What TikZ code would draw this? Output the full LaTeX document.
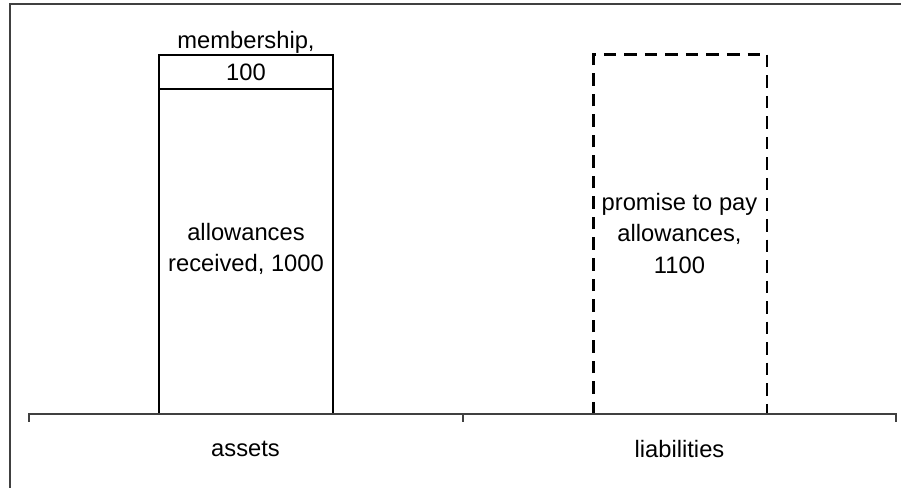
\documentclass[tikz,border=0pt]{standalone}
\usepackage{fontspec}
\setmainfont{Liberation Sans}
\begin{document}
\begin{tikzpicture}[x=0.75pt,y=-0.75pt,
  lbl/.style={font=\fontsize{17.8}{23.6}\selectfont, align=center, inner sep=0pt, text=black},
  barbox/.style={draw=black, line width=1.5pt, inner sep=0pt},
  dashedge/.style={draw=black, line width=1.9pt, dash pattern=on 9.4pt off 6pt},
  axisline/.style={draw=black!75, line width=0.8pt},
  frame/.style={draw=black!75, line width=1.5pt}]
\useasboundingbox (0,0) rectangle (901,488);
% frame (only top and left edges visible)
\coordinate (fbl) at (10,490);
\coordinate (ftl) at (10,4);
\coordinate (ftr) at (903,4);
\draw[frame] (fbl) -- (ftl) -- (ftr);
% boxes
\node[barbox, minimum width=130.7pt, minimum height=269.25pt] (assets) at (245.9,234.5) {};
\node[barbox, minimum width=130.7pt, minimum height=25.5pt] (member) at (245.9,72) {};
\node[inner sep=0pt, minimum width=129.5pt, minimum height=269.25pt] (liab) at (680.3,234.5) {};
\draw[dashedge] (liab.south west) -- (liab.north west) -- (liab.north east);
\draw[dashedge] (liab.north east) -- (liab.south east);
% axis
\coordinate (a0) at (29,414);
\coordinate (a1) at (463,414);
\coordinate (a2) at (896,414);
\coordinate (t0) at (29,422);
\coordinate (t1) at (463,422);
\coordinate (t2) at (896,422);
\draw[axisline] (t0) -- (a0) -- (a2) -- (t2);
\draw[axisline] (a1) -- (t1);
% labels
\node[lbl] (memtext) at (246,56) {membership,\\100};
\node[lbl] (alltext) at (246,249) {allowances\\received, 1000};
\node[lbl] (promtext) at (679.5,233.5) {promise to pay\\allowances,\\1100};
\node[lbl] (assetlbl) at (245.5,449) {assets};
\node[lbl] (liablbl) at (679.5,449) {liabilities};
\end{tikzpicture}
\end{document}
